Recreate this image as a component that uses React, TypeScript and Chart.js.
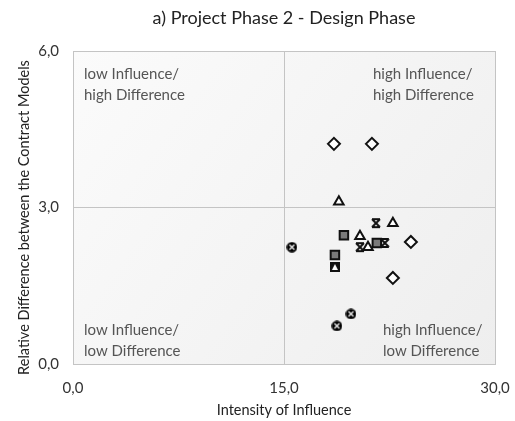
import React, { useEffect, useRef } from "react";
import { Chart, registerables } from "chart.js";

Chart.register(...registerables);

const chartTitle = "a) Project Phase 2 - Design Phase";
const xAxisTitle = "Intensity of Influence";
const yAxisTitle = "Relative Difference between the Contract Models";
const xTickLabels: Record<number, string> = { 0: "0,0", 15: "15,0", 30: "30,0" };
const yTickLabels: Record<number, string> = { 0: "0,0", 3: "3,0", 6: "6,0" };

const diamondPoints = [
  { x: 18.55, y: 4.22 },
  { x: 21.25, y: 4.22 },
  { x: 24.02, y: 2.34 },
  { x: 22.74, y: 1.65 },
];
const trianglePoints = [
  { x: 18.9, y: 3.11 },
  { x: 22.74, y: 2.7 },
  { x: 20.4, y: 2.45 },
  { x: 20.97, y: 2.24 },
];
const starPoints = [
  { x: 21.54, y: 2.7 },
  { x: 20.4, y: 2.24 },
  { x: 22.17, y: 2.32 },
];
const squarePoints = [
  { x: 19.26, y: 2.47 },
  { x: 18.62, y: 2.09 },
  { x: 21.6, y: 2.32 },
];
const squareTrianglePoints = [{ x: 18.62, y: 1.86 }];
const crossCirclePoints = [
  { x: 15.56, y: 2.24 },
  { x: 19.76, y: 0.96 },
  { x: 18.76, y: 0.73 },
];

const quadrantLabels = [
  { lines: ["low Influence/", "high Difference"], qx: 0, qy: 1 },
  { lines: ["high Influence/", "high Difference"], qx: 1, qy: 1 },
  { lines: ["low Influence/", "low Difference"], qx: 0, qy: 0 },
  { lines: ["high Influence/", "low Difference"], qx: 1, qy: 0 },
];

const FONT = "Lato, 'Open Sans', sans-serif";
const W = 515;
const H = 421;

function makeCanvas(size: number, draw: (ctx: CanvasRenderingContext2D, s: number) => void) {
  const c = document.createElement("canvas");
  c.width = size;
  c.height = size;
  const ctx = c.getContext("2d")!;
  draw(ctx, size);
  return c;
}

function makeStar() {
  return makeCanvas(12, (ctx) => {
    ctx.strokeStyle = "#111";
    ctx.lineWidth = 2;
    ctx.beginPath();
    ctx.moveTo(2, 2);
    ctx.lineTo(10, 10);
    ctx.moveTo(10, 2);
    ctx.lineTo(2, 10);
    ctx.moveTo(2, 2);
    ctx.lineTo(10, 2);
    ctx.moveTo(2, 10);
    ctx.lineTo(10, 10);
    ctx.stroke();
  });
}

function makeSquareTriangle() {
  return makeCanvas(10, (ctx) => {
    ctx.fillStyle = "#111";
    ctx.fillRect(0, 0, 10, 10);
    ctx.fillStyle = "#fff";
    ctx.beginPath();
    ctx.moveTo(5, 2);
    ctx.lineTo(8, 8);
    ctx.lineTo(2, 8);
    ctx.closePath();
    ctx.fill();
  });
}

function makeCrossCircle() {
  return makeCanvas(11, (ctx) => {
    ctx.fillStyle = "#000";
    ctx.beginPath();
    ctx.arc(5.5, 5.5, 5.3, 0, Math.PI * 2);
    ctx.fill();
    ctx.strokeStyle = "#fff";
    ctx.lineWidth = 1.2;
    ctx.beginPath();
    ctx.moveTo(3, 3);
    ctx.lineTo(8, 8);
    ctx.moveTo(8, 3);
    ctx.lineTo(3, 8);
    ctx.stroke();
  });
}

const decorPlugin = {
  id: "decor",
  beforeDraw(chart: any) {
    const { ctx, chartArea } = chart;
    const { left, top, right, bottom } = chartArea;
    ctx.save();
    ctx.fillStyle = "#fff";
    ctx.fillRect(0, 0, chart.width, chart.height);
    const g = ctx.createLinearGradient(left, top, right, bottom);
    g.addColorStop(0, "#fbfbfb");
    g.addColorStop(1, "#eeeeee");
    ctx.fillStyle = g;
    ctx.fillRect(left, top, right - left, bottom - top);
    ctx.restore();
  },
  afterDraw(chart: any) {
    const { ctx, chartArea } = chart;
    const { left, top, right, bottom } = chartArea;
    ctx.save();
    ctx.fillStyle = "#222";
    ctx.font = `18px ${FONT}`;
    ctx.textAlign = "center";
    ctx.textBaseline = "middle";
    ctx.fillText(chartTitle, (left + right) / 2, 18);

    // y axis title
    ctx.save();
    ctx.font = `14.5px ${FONT}`;
    ctx.translate(24, (top + bottom) / 2 + 10);
    ctx.rotate(-Math.PI / 2);
    ctx.fillText(yAxisTitle, 0, 0);
    ctx.restore();

    ctx.font = `15px ${FONT}`;
    ctx.fillStyle = "#555";
    ctx.textAlign = "left";
    const midX = (left + right) / 2;
    quadrantLabels.forEach((q) => {
      const x = q.qx === 0 ? left + 11 : q.qy === 1 ? midX + 89 : midX + 99;
      const y0 = q.qy === 1 ? top + 23 : bottom - 34;
      q.lines.forEach((line, i) => ctx.fillText(line, x, y0 + i * 21));
    });
    ctx.restore();
  },
};

export default function App() {
  const ref = useRef<HTMLCanvasElement | null>(null);

  useEffect(() => {
    if (!ref.current) return;
    const common = {
      showLine: false,
      pointBorderColor: "#111",
      pointBorderWidth: 2,
      pointBackgroundColor: "#fff",
    };
    const chart = new Chart(ref.current, {
      type: "scatter",
      data: {
        datasets: [
          { ...common, label: "A", data: diamondPoints, pointStyle: "rectRot", pointRadius: 6 },
          { ...common, label: "B", data: trianglePoints, pointStyle: "triangle", pointRadius: 5.5 },
          { ...common, label: "C", data: starPoints, pointStyle: makeStar() as any, pointRadius: 6 },
          {
            ...common,
            label: "D",
            data: squarePoints,
            pointStyle: "rect",
            pointRadius: 6,
            pointBackgroundColor: "#7a7a7a",
          },
          { ...common, label: "E", data: squareTrianglePoints, pointStyle: makeSquareTriangle() as any, pointRadius: 5 },
          { ...common, label: "F", data: crossCirclePoints, pointStyle: makeCrossCircle() as any, pointRadius: 5 },
        ],
      },
      options: {
        animation: false,
        responsive: false,
        layout: { padding: { top: 51, right: 20, left: 0, bottom: 0 } },
        plugins: { legend: { display: false }, tooltip: { enabled: false }, title: { display: false } },
        scales: {
          x: {
            type: "linear",
            min: 0,
            max: 30,
            afterFit: (s: any) => {
              s.height = 57;
              s.paddingRight = 0;
              s.paddingLeft = 0;
            },
            afterBuildTicks: (s: any) => {
              s.ticks = Object.keys(xTickLabels).map((v) => ({ value: Number(v) }));
            },
            ticks: {
              padding: 15,
              color: "#333",
              font: { family: FONT, size: 15 },
              callback: (v: any) => xTickLabels[v as number] ?? "",
            },
            grid: { color: "#c4c4c4", drawTicks: false },
            border: { color: "#c4c4c4" },
            title: {
              display: true,
              text: xAxisTitle,
              color: "#222",
              font: { family: FONT, size: 14.5 },
              padding: { top: 0, bottom: 2 },
            },
          },
          y: {
            type: "linear",
            min: 0,
            max: 6,
            afterFit: (s: any) => {
              s.width = 73;
              s.paddingTop = 0;
              s.paddingBottom = 0;
            },
            afterBuildTicks: (s: any) => {
              s.ticks = Object.keys(yTickLabels).map((v) => ({ value: Number(v) }));
            },
            ticks: {
              padding: 14,
              color: "#333",
              font: { family: FONT, size: 15 },
              callback: (v: any) => yTickLabels[v as number] ?? "",
            },
            grid: { color: "#c4c4c4", drawTicks: false },
            border: { color: "#c4c4c4" },
            title: { display: false },
          },
        },
      },
      plugins: [decorPlugin],
    } as any);
    return () => chart.destroy();
  }, []);

  return (
    <div style={{ position: "absolute", left: 0, top: 0, width: W, height: H }}>
      <canvas ref={ref} width={W} height={H} style={{ width: W, height: H, display: "block" }} />
    </div>
  );
}
